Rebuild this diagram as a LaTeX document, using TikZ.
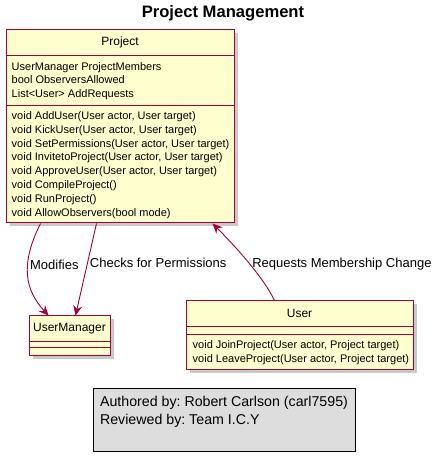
\documentclass[tikz,border=0pt]{standalone}
\usepackage{fontspec}
\setmainfont{Liberation Sans}
\usetikzlibrary{arrows.meta,calc,positioning,shadows}
\definecolor{umlborder}{HTML}{A80036}
\definecolor{umlfill}{HTML}{FEFECE}
\definecolor{notefill}{HTML}{DDDDDD}

\begin{document}
\frenchspacing
\begin{tikzpicture}[
        x=1pt, y=1pt,
        classbox/.style={draw=umlborder, fill=umlfill, line width=1pt, inner sep=0pt,
            drop shadow={shadow xshift=3.5pt, shadow yshift=-3.5pt, opacity=0.3, fill=black!70}},
        sepline/.style={draw=umlborder, line width=1pt},
        classname/.style={inner sep=0pt, font=\fontsize{12}{14}\selectfont},
        members/.style={inner sep=0pt, align=left, anchor=west, font=\fontsize{11}{13.8}\selectfont},
        notebox/.style={draw=black, fill=notefill, line width=0.8pt, align=left,
            inner xsep=7pt, inner ysep=0pt, minimum width=262pt, minimum height=63pt,
            font=\fontsize{14.2}{18}\selectfont},
        assoc/.style={draw=umlborder, line width=0.9pt, -{Stealth[length=10pt, width=9pt, inset=3.5pt]}},
        edgelabel/.style={inner sep=2pt, anchor=west, font=\fontsize{13}{15}\selectfont}
    ]
    \useasboundingbox (0,0) rectangle (442,462);

    \node[font=\fontsize{16.6}{20}\selectfont\bfseries] (title) at (223,448.5) {Project Management};

    \node[classbox, minimum width=228pt, minimum height=193pt] (project) at (120,335.5) {};
    \node[classname] (projectname) at ([yshift=-13pt]project.north) {Project};
    \draw[sepline] ([yshift=-26pt]project.north west) -- ([yshift=-26pt]project.north east);
    \draw[sepline] ([yshift=-76pt]project.north west) -- ([yshift=-76pt]project.north east);
    \node[members] (projectattrs) at ([xshift=6pt, yshift=-51.5pt]project.north west)
        {UserManager ProjectMembers\\bool ObserversAllowed\\List<User> AddRequests};
    \node[members] (projectops) at ([xshift=6pt, yshift=-135.5pt]project.north west)
        {void AddUser(User actor, User target)\\
         void KickUser(User actor, User target)\\
         void SetPermissions(User actor, User target)\\
         void InvitetoProject(User actor, User target)\\
         void ApproveUser(User actor, User target)\\
         void CompileProject()\\
         void RunProject()\\
         void AllowObservers(bool mode)};

    \node[classbox, minimum width=81pt, minimum height=40pt] (usermanager) at (69.5,126) {};
    \node[classname] (usermanagername) at ([yshift=-13pt]usermanager.north) {UserManager};
    \draw[sepline] ([yshift=-26pt]usermanager.north west) -- ([yshift=-26pt]usermanager.north east);
    \draw[sepline] ([yshift=-32pt]usermanager.north west) -- ([yshift=-32pt]usermanager.north east);

    \node[classbox, minimum width=227pt, minimum height=69pt] (user) at (299.5,126.5) {};
    \node[classname] (username) at ([yshift=-13pt]user.north) {User};
    \draw[sepline] ([yshift=-26pt]user.north west) -- ([yshift=-26pt]user.north east);
    \draw[sepline] ([yshift=-34pt]user.north west) -- ([yshift=-34pt]user.north east);
    \node[members] (userops) at ([xshift=7pt, yshift=-52pt]user.north west)
        {void JoinProject(User actor, Project target)\\
         void LeaveProject(User actor, Project target)};

    \node[notebox] (note) at (224,42.5)
        {Authored by: Robert Carlson (carl7595)\\Reviewed by: Team I.C.Y\\\mbox{}};

    \draw[assoc] ([xshift=35pt]project.south west) .. controls +(-21,-42) and +(-23,25) ..
        node[edgelabel, pos=0.38] {Modifies} ([xshift=20pt]usermanager.north west);
    \draw[assoc] ([xshift=91pt]project.south west) --
        node[edgelabel, pos=0.43] {Checks for Permissions} ([xshift=47pt]usermanager.north west);
    \draw[assoc] ([xshift=89pt]user.north west) .. controls +(-10,21) and +(27,-27) ..
        node[edgelabel, pos=0.5] {Requests Membership Change} ([xshift=207pt]project.south west);
\end{tikzpicture}
\end{document}
